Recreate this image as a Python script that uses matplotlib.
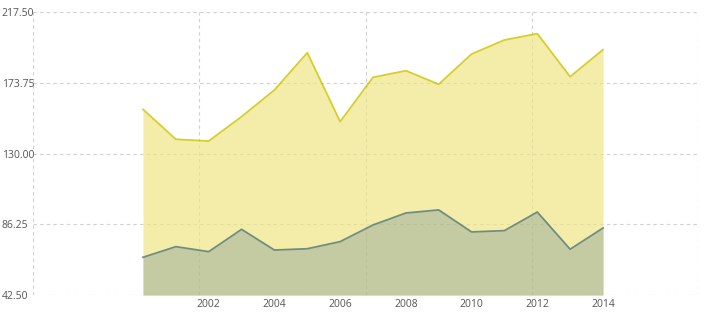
import matplotlib
matplotlib.use("Agg")
import matplotlib.pyplot as plt
import numpy as np

years = [2000, 2001, 2002, 2003, 2004, 2005, 2006, 2007, 2008, 2009, 2010, 2011, 2012, 2013, 2014]
series_upper = [157.3, 138.8, 137.7, 152.8, 169.3, 192.3, 149.7, 177.1, 181.2, 172.8, 191.5, 200.2, 204.1, 177.5, 194.2]
series_lower = [65.8, 72.4, 69.3, 83.1, 70.3, 71.1, 75.5, 85.8, 93.2, 95.1, 81.5, 82.3, 93.8, 70.8, 83.9]
x_tick_labels = [2002, 2004, 2006, 2008, 2010, 2012, 2014]
y_ticks = [42.50, 86.25, 130.00, 173.75, 217.50]

plt.rcParams['font.family'] = ['Open Sans', 'DejaVu Sans']

fig = plt.figure(figsize=(7.08, 3.19), dpi=100)
W, H = 708, 319
ax = fig.add_axes([33 / W, 1 - 295 / H, (698 - 33) / W, (295 - 12) / H])

ymin, ymax = y_ticks[0], y_ticks[-1]
xmin, xmax = 1996.652, 2016.891
ax.set_xlim(xmin, xmax)
ax.set_ylim(ymin, ymax)

yellow_fill = '#F3EDA9'
yellow_line = '#D6CE2C'
green_fill = '#C4CBA3'
green_line = '#6F8E80'

ax.fill_between(years, ymin, series_upper, color=yellow_fill, lw=0, zorder=2)
ax.plot(years, series_upper, color=yellow_line, lw=1.3, zorder=3)
ax.fill_between(years, ymin, series_lower, color=green_fill, lw=0, zorder=4)
ax.plot(years, series_lower, color=green_line, lw=1.3, zorder=5)

for s in ax.spines.values():
    s.set_visible(False)

dash = (0, (3, 3))
grid_kw = dict(color='#DEDEDE', lw=0.8, ls=dash, zorder=1)
over_kw = dict(color='#707050', lw=0.8, ls=dash, zorder=6, alpha=0.12)
vx = np.linspace(xmin, xmax, 5)
for y in y_ticks:
    ax.axhline(y, **grid_kw)
    ax.axhline(y, **over_kw)
for xv in vx:
    ax.axvline(xv, **grid_kw)
    ax.axvline(xv, **over_kw)

ax.set_yticks(y_ticks)
ax.set_yticklabels([f"{v:.2f}" for v in y_ticks])
ax.set_xticks(x_tick_labels)
ax.set_xticklabels([str(v) for v in x_tick_labels])
ax.tick_params(axis='both', length=0, labelsize=7.5, labelcolor='#555555')
ax.tick_params(axis='y', pad=22.5)
for lbl in ax.get_yticklabels():
    lbl.set_horizontalalignment('left')
ax.tick_params(axis='x', pad=3)

fig.savefig('out.png', dpi=100)
